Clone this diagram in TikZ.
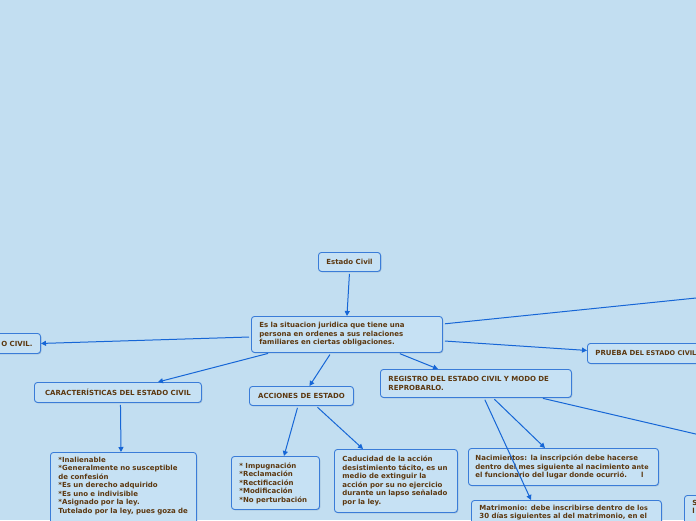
\documentclass[tikz,border=0pt]{standalone}
\usepackage{fontspec}
\setmainfont{DejaVu Sans}
\usepackage{xcolor}
\usepackage{tikz}
\usetikzlibrary{arrows.meta,shadows}

\definecolor{fondo}{RGB}{194,222,241}
\definecolor{relleno}{RGB}{198,225,244}
\definecolor{borde}{RGB}{58,124,216}
\definecolor{sombra}{RGB}{120,150,185}
\definecolor{texto}{RGB}{92,56,16}
\definecolor{linea}{RGB}{22,102,214}

\begin{document}
\begin{tikzpicture}[x=1pt, y=-1pt,
    caja/.style={draw=borde, fill=relleno, line width=0.9pt, rounded corners=3pt,
      text=texto, font=\bfseries\fontsize{7}{8.5}\selectfont,
      inner xsep=8pt, inner ysep=4.5pt, anchor=north west,
      drop shadow={shadow xshift=0.8pt, shadow yshift=-0.9pt, fill=sombra, opacity=0.5}},
    enlace/.style={draw=linea, line width=1pt, shorten <=2pt, -{Triangle[width=5pt,length=5pt]}},
    suelto/.style={draw=linea, line width=1pt, shorten <=2pt}]
    \useasboundingbox (0,0) rectangle (696,520);
    \clip (0,0) rectangle (696,520);
    \fill[fondo] (0,0) rectangle (696,520);

    % nivel superior
    \node[caja, minimum width=62pt, minimum height=19pt] (civil) at (318,252) {Estado Civil};
    \node[caja, text width=175pt, align=left, minimum height=36pt] (def) at (251,316)
      {Es la situacion juridica que tiene una\\ persona en ordenes a sus relaciones\\ familiares en ciertas obligaciones.};

    % ramas
    \node[caja, anchor=north east, text width=92pt, align=right, minimum height=20pt] (izq) at (41,333) {O CIVIL.};
    \node[caja, minimum width=167pt, minimum height=20pt] (carac) at (34,382) {CARACTERÍSTICAS DEL ESTADO CIVIL};
    \node[caja, minimum width=104pt, minimum height=19pt] (acc) at (249,386) {ACCIONES DE ESTADO};
    \node[caja, text width=175pt, align=left, minimum height=28pt] (reg) at (380,369)
      {REGISTRO DEL ESTADO CIVIL Y MODO DE\\ REPROBARLO.};
    \node[caja, text width=150pt, align=left, minimum height=20pt] (prueba) at (587,343)
      {\mbox{PRUEBA D{\fontsize{6.5}{8}\selectfont EL ESTADO CIVIL}}};

    % hojas
    \node[caja, text width=130pt, align=left] (caracdet) at (50,452)
      {*Inalienable\\{}*Generalmente no susceptible\\ de confesión\\{}*Es un derecho adquirido\\{}%
       *Es uno e indivisible\\{}*Asignado por la ley.\\ \mbox{Tutelado por la ley, pues goza de}\rule[-25pt]{0pt}{25pt}};
    \node[caja, text width=72pt, align=left, minimum height=53pt] (lista) at (231,456)
      {* Impugnación\\{}*Reclamación\\{}*Rectificación\\{}*Modificación\\{}*No perturbación};
    \node[caja, text width=107pt, align=left, minimum height=63pt] (cad) at (334,449)
      {Caducidad de la acción\\ \mbox{desistimiento tácito, es un}\\ medio de extinguir la\\ \mbox{acción por su no ejercicio}\\
       \mbox{durante un lapso señalado}\\ por la ley.};
    \node[caja, text width=176pt, align=left, minimum height=37pt, inner xsep=7pt] (nac) at (468,448)
      {\mbox{Nacimientos: la inscripción debe hacerse}\\ \mbox{dentro del mes siguiente al nacimiento a{\fontsize{6.4}{8}\selectfont nte}}\\
       \mbox{el funcionario del lugar donde ocurrió.\hspace{14pt}l}};
    \node[caja, text width=174pt, align=left] (mat) at (471,500)
      {\mbox{Matrimonio: debe inscribirse dentro de l{\fontsize{6.4}{8}\selectfont os}}\\
       \mbox{30 días siguientes al del matrimonio, en el}\rule[-25pt]{0pt}{25pt}};
    \node[caja, text width=40pt, align=left] (otro) at (684,495) {S\\ l\rule[-25pt]{0pt}{25pt}};

    \coordinate (fueraA) at (700,297.6);
    \coordinate (fueraB) at (700,435);

    % conectores
    \draw[enlace] (civil.south) -- (def.north);
    \draw[enlace] ([yshift=-2.5pt]def.west) -- (izq.east);
    \draw[enlace] ([xshift=19pt]def.south west) -- ([xshift=40pt]carac.north);
    \draw[enlace] ([xshift=80pt]def.south west) -- ([xshift=8pt]acc.north);
    \draw[enlace] ([xshift=147pt]def.south west) -- ([xshift=58pt]reg.north west);
    \draw[enlace] ([yshift=12pt]def.south east) -- ([yshift=3pt]prueba.west);
    \draw[suelto] ([yshift=-8pt]def.north east) -- (fueraA);
    \draw[enlace] ([xshift=2.5pt]carac.south) -- ([xshift=71pt]caracdet.north west);
    \draw[enlace] ([xshift=49pt]acc.south west) -- ([xshift=53pt]lista.north west);
    \draw[enlace] ([xshift=67pt]acc.south west) -- ([xshift=29pt]cad.north west);
    \draw[enlace] ([xshift=104pt]reg.south west) -- ([xshift=60pt]mat.north west);
    \draw[enlace] ([xshift=113pt]reg.south west) -- ([xshift=77pt]nac.north west);
    \draw[suelto] ([xshift=161pt]reg.south west) -- (fueraB);
\end{tikzpicture}
\end{document}
